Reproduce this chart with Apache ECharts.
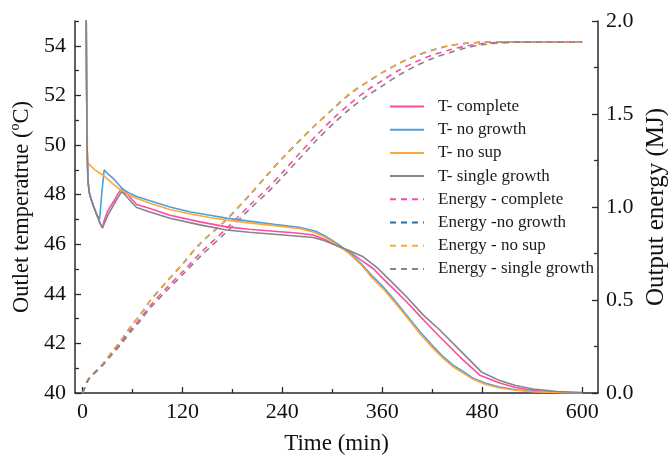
<!DOCTYPE html>
<html>
<head>
<meta charset="utf-8">
<script src="https://cdn.jsdelivr.net/npm/echarts@6/dist/echarts.min.js"></script>
<style>html,body{margin:0;padding:0;background:#fff}#c{width:668px;height:455px}</style>
</head>
<body>
<div id="c"></div>
<script>
// ---- Data ----
const xLabels = [0, 120, 240, 360, 480, 600];
const xMinor = [60, 180, 300, 420, 540];
const yLeftLabels = [40, 42, 44, 46, 48, 50, 52, 54];
const yLeftMinor = [41, 43, 45, 47, 49, 51, 53, 55];

// Temperature - complete
const tComplete = [4, 4.8, 5.5, 6.5, 8, 10, 13, 17, 21, 24, 26, 29, 33, 37, 42, 47, 51, 55, 60, 65, 81, 105, 141, 173, 200, 230, 260, 277, 290, 305, 320, 335, 349, 361, 375, 389, 401, 415, 429, 453, 477, 501, 520, 541, 570, 600];
const TComplete = [58, 53, 50, 48.6, 48.1, 47.85, 47.55, 47.2, 46.85, 46.66, 46.95, 47.24, 47.5, 47.7, 48.0, 48.25, 48.15, 47.98, 47.78, 47.6, 47.44, 47.17, 46.9, 46.7, 46.6, 46.52, 46.44, 46.37, 46.2, 45.95, 45.7, 45.35, 45.02, 44.6, 44.15, 43.68, 43.25, 42.75, 42.27, 41.46, 40.72, 40.4, 40.22, 40.1, 40.03, 40.0];

// Temperature - no growth
const tNoGrowth = [4, 4.8, 5.5, 6.5, 8, 10, 13, 17, 20.5, 23, 26, 30, 37, 43, 49, 57, 65, 81, 105, 130, 153, 173, 200, 230, 260, 280, 290, 300, 309, 321, 335, 349, 361, 375, 389, 405, 421, 433, 445, 457, 469, 485, 501, 520, 541, 570, 600];
const TNoGrowth = [58, 53, 50, 48.6, 48.1, 47.85, 47.55, 47.2, 47.0, 48.0, 49.0, 48.85, 48.65, 48.42, 48.2, 48.05, 47.92, 47.75, 47.5, 47.3, 47.17, 47.05, 46.93, 46.8, 46.68, 46.52, 46.35, 46.15, 45.95, 45.65, 45.2, 44.68, 44.28, 43.73, 43.15, 42.48, 41.88, 41.47, 41.12, 40.87, 40.6, 40.38, 40.24, 40.13, 40.06, 40.02, 40.0];

// Temperature - no sup
const tNoSup = [4, 4.8, 5.5, 6, 10, 15, 20, 25, 30, 37, 45, 49, 57, 65, 81, 105, 130, 153, 173, 200, 230, 260, 279, 290, 300, 309, 321, 335, 349, 361, 375, 389, 405, 421, 433, 445, 457, 469, 485, 501, 520, 541, 570, 600];
const TNoSup = [58, 53, 51, 49.3, 49.15, 49.0, 48.88, 48.78, 48.62, 48.42, 48.2, 48.1, 47.97, 47.85, 47.65, 47.4, 47.22, 47.08, 46.97, 46.86, 46.75, 46.63, 46.47, 46.3, 46.1, 45.9, 45.6, 45.15, 44.6, 44.2, 43.65, 43.07, 42.4, 41.8, 41.4, 41.06, 40.8, 40.55, 40.33, 40.2, 40.11, 40.05, 40.02, 40.0];

// Temperature - single growth
const tSingle = [4, 4.8, 5.5, 6.5, 8, 10, 13, 17, 21, 24, 27, 31, 36, 41, 47, 51, 55, 60, 65, 81, 105, 141, 173, 200, 230, 260, 277, 290, 305, 320, 337, 353, 369, 389, 409, 429, 453, 479, 501, 520, 541, 570, 600];
const TSingle = [58, 53, 50, 48.6, 48.1, 47.85, 47.55, 47.2, 46.85, 46.66, 46.9, 47.2, 47.5, 47.8, 48.12, 48.0, 47.84, 47.65, 47.48, 47.3, 47.05, 46.78, 46.57, 46.48, 46.4, 46.32, 46.27, 46.15, 45.95, 45.75, 45.49, 45.08, 44.55, 43.88, 43.15, 42.54, 41.73, 40.85, 40.5, 40.3, 40.16, 40.06, 40.02];

// Output energy (MJ), shared time grid
const tEnergy = [0, 3, 7, 15, 25, 35, 45, 59, 69, 81, 101, 121, 141, 173, 201, 221, 241, 261, 281, 301, 321, 341, 361, 381, 401, 421, 441, 461, 480, 500, 520, 560, 600];
const EComplete = [0, 0.03, 0.072, 0.11, 0.155, 0.21, 0.262, 0.345, 0.397, 0.468, 0.565, 0.655, 0.75, 0.885, 1.01, 1.095, 1.19, 1.29, 1.385, 1.475, 1.555, 1.625, 1.683, 1.738, 1.782, 1.818, 1.845, 1.866, 1.879, 1.885, 1.887, 1.887, 1.887];
const ENoGrowth = [0, 0.03, 0.074, 0.114, 0.16, 0.219, 0.275, 0.363, 0.418, 0.494, 0.598, 0.698, 0.802, 0.933, 1.066, 1.168, 1.267, 1.358, 1.446, 1.528, 1.608, 1.669, 1.725, 1.774, 1.814, 1.844, 1.868, 1.88, 1.886, 1.887, 1.887, 1.887, 1.887];
const ENoSup = [0, 0.03, 0.074, 0.114, 0.16, 0.22, 0.276, 0.365, 0.419, 0.495, 0.6, 0.7, 0.804, 0.935, 1.068, 1.17, 1.269, 1.36, 1.448, 1.53, 1.61, 1.67, 1.726, 1.775, 1.815, 1.845, 1.869, 1.88, 1.886, 1.887, 1.887, 1.887, 1.887];
const ESingle = [0, 0.03, 0.07, 0.108, 0.152, 0.205, 0.255, 0.335, 0.386, 0.455, 0.55, 0.64, 0.732, 0.866, 0.99, 1.073, 1.165, 1.262, 1.359, 1.447, 1.527, 1.595, 1.654, 1.712, 1.76, 1.8, 1.83, 1.856, 1.872, 1.882, 1.886, 1.887, 1.887];

// ---- Chart ----
const pink = '#ff4aa5', blue = '#4e9fd8', blueD = '#1f6fb4', orange = '#fba93c', gray = '#858585';
const FONT = 'Liberation Serif';
const AX = '#2b2b2b';
function zip(t, v) { return t.map((x, i) => [x, v[i]]); }
function tSeries(name, t, v, color) {
  return { name, type: 'line', xAxisIndex: 0, yAxisIndex: 0, data: zip(t, v), showSymbol: false, symbol: 'none',
    lineStyle: { color, width: 1.6 }, itemStyle: { color }, z: 3, animation: false };
}
function eSeries(name, v, color) {
  return { name, type: 'line', xAxisIndex: 0, yAxisIndex: 1, data: zip(tEnergy, v), showSymbol: false, symbol: 'none', smooth: 0.3,
    lineStyle: { color, width: 1.6, type: [6, 5] }, itemStyle: { color }, z: 2, animation: false };
}
const xMin = -9, xMax = 619;
const chart = echarts.init(document.getElementById('c'), null, { renderer: 'canvas' });
chart.setOption({
  animation: false,
  backgroundColor: '#fff',
  textStyle: { fontFamily: FONT },
  grid: { left: 75, top: 21, width: 523, height: 372, outerBoundsMode: 'none', containLabel: false },
  legend: {
    orient: 'vertical', left: 384, top: 93, itemWidth: 34, itemHeight: 12, itemGap: 6.2,
    itemStyle: { opacity: 0 },
    textStyle: { fontFamily: FONT, fontSize: 17, color: '#1a1a1a', padding: [0, 0, 0, 9] },
    data: ['T- complete', 'T- no growth', 'T- no sup', 'T- single growth',
      'Energy - complete', 'Energy -no growth', 'Energy - no sup', 'Energy - single growth']
  },
  xAxis: [
    { type: 'value', min: xMin, max: xMax, name: 'Time (min)', nameLocation: 'middle', nameGap: 39,
      nameTextStyle: { fontFamily: FONT, fontSize: 23, color: '#111' },
      axisLine: { show: true, onZero: false, lineStyle: { color: AX, width: 1.5 } },
      axisTick: { show: true, inside: true, length: 6, customValues: xLabels, lineStyle: { color: AX, width: 1.3 } },
      axisLabel: { customValues: xLabels, fontFamily: FONT, fontSize: 22, color: '#111', margin: 8 },
      splitLine: { show: false } },
    { type: 'value', min: xMin, max: xMax, position: 'bottom',
      axisLine: { show: false, onZero: false }, axisLabel: { show: false }, splitLine: { show: false },
      axisTick: { show: true, inside: true, length: 4, customValues: xMinor, lineStyle: { color: AX, width: 1.3 } } }
  ],
  yAxis: [
    { type: 'value', min: 40, max: 55, position: 'left', name: 'Outlet temperatrue (ºC)', nameLocation: 'middle', nameGap: 38,
      nameTextStyle: { fontFamily: FONT, fontSize: 22.5, color: '#111' },
      axisLine: { show: true, onZero: false, lineStyle: { color: AX, width: 1.5 } },
      axisTick: { show: true, inside: true, length: 6, customValues: yLeftLabels, lineStyle: { color: AX, width: 1.3 } },
      axisLabel: { customValues: yLeftLabels, fontFamily: FONT, fontSize: 22, color: '#111', margin: 9 },
      splitLine: { show: false } },
    { type: 'value', min: 0, max: 2, interval: 0.5, position: 'right', name: 'Output energy (MJ)', nameLocation: 'middle', nameGap: 45, nameRotate: 90,
      nameTextStyle: { fontFamily: FONT, fontSize: 25, color: '#111' },
      axisLine: { show: true, onZero: false, lineStyle: { color: AX, width: 1.5 } },
      axisTick: { show: true, inside: true, length: 6, lineStyle: { color: AX, width: 1.3 } },
      minorTick: { show: true, splitNumber: 2, length: 4, lineStyle: { color: AX, width: 1.3 } },
      axisLabel: { fontFamily: FONT, fontSize: 22, color: '#111', margin: 8, formatter: v => v.toFixed(1) },
      splitLine: { show: false }, minorSplitLine: { show: false } },
    { type: 'value', min: 40, max: 55, position: 'left',
      axisLine: { show: false, onZero: false }, axisLabel: { show: false }, splitLine: { show: false },
      axisTick: { show: true, inside: true, length: 4, customValues: yLeftMinor, lineStyle: { color: AX, width: 1.3 } } }
  ],
  series: [
    tSeries('T- complete', tComplete, TComplete, pink),
    tSeries('T- no growth', tNoGrowth, TNoGrowth, blue),
    tSeries('T- no sup', tNoSup, TNoSup, orange),
    tSeries('T- single growth', tSingle, TSingle, gray),
    eSeries('Energy - complete', EComplete, pink),
    eSeries('Energy -no growth', ENoGrowth, blueD),
    eSeries('Energy - no sup', ENoSup, orange),
    eSeries('Energy - single growth', ESingle, gray)
  ]
});
</script>
</body>
</html>
